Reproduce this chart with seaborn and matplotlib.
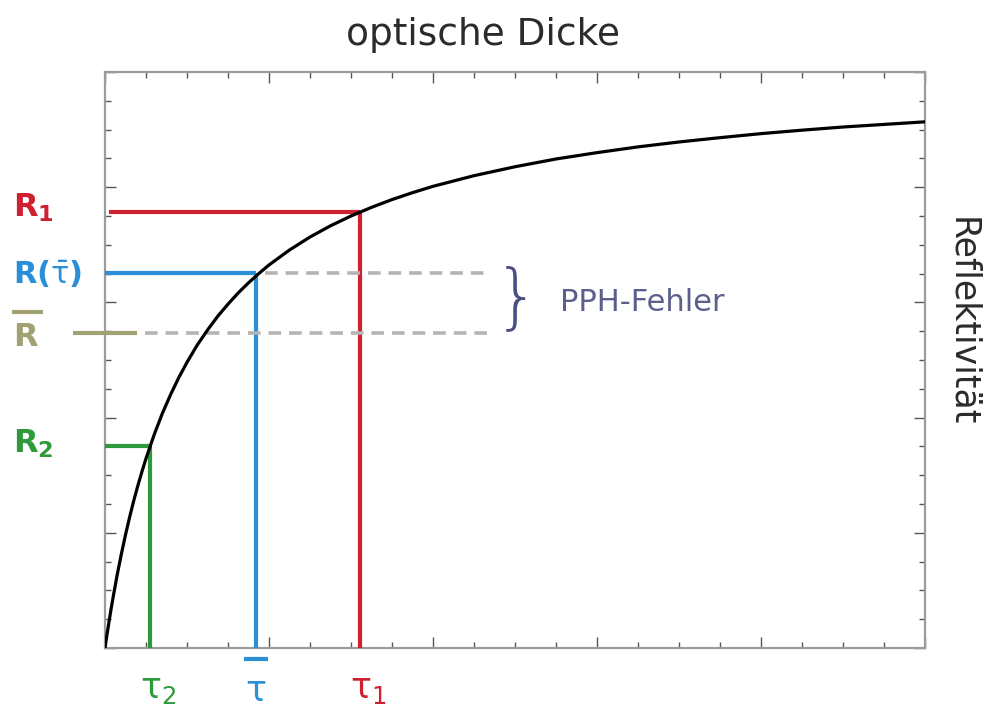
import matplotlib
matplotlib.use("Agg")
import matplotlib.pyplot as plt
from matplotlib.ticker import MultipleLocator
import seaborn as sns
import pandas as pd

# ---- data (axis units 0..20 on both axes) ----
tau = [0, 0.05, 0.1, 0.15, 0.2, 0.3, 0.4, 0.5, 0.6, 0.7, 0.8, 0.9, 1.0, 1.2,
       1.4, 1.6, 1.8, 2.0, 2.25, 2.5, 2.75, 3.0, 3.25, 3.5, 3.75, 4.0, 4.5,
       5.0, 5.5, 6.0, 6.5, 7.0, 7.5, 8.0, 9, 10, 11, 12, 13, 14, 15, 16, 17,
       18, 19, 20]
refl = [0, 0.48, 0.93, 1.37, 1.78, 2.56, 3.27, 3.93, 4.54, 5.11, 5.63, 6.12,
        6.58, 7.41, 8.15, 8.80, 9.39, 9.92, 10.52, 11.04, 11.52, 11.94, 12.33,
        12.68, 13.00, 13.30, 13.82, 14.27, 14.66, 15.00, 15.30, 15.57, 15.81,
        16.03, 16.40, 16.71, 16.98, 17.20, 17.40, 17.57, 17.72, 17.86, 17.98,
        18.09, 18.18, 18.27]

tau2, R2 = 1.10, 7.00
tau_bar, R_tau_bar = 3.68, 13.02
tau1, R1 = 6.22, 15.14
R_bar = 10.94
pph_end = 9.32

RED = "#cf2030"
BLUE = "#2a8fd6"
GREEN = "#2f9a3c"
OLIVE = "#a2a174"
DASH = "#b4b4b4"
PPH = "#5b5f8c"

sns.set_theme(style="white")
plt.rcParams["font.family"] = ["DejaVu Sans"]
plt.rcParams["mathtext.fontset"] = "dejavusans"

fig = plt.figure(figsize=(9.85, 7.15), dpi=100)
ax = fig.add_axes([105 / 985, 67 / 715, 820 / 985, 576 / 715])

df = pd.DataFrame({"tau": tau, "R": refl})
sns.lineplot(data=df, x="tau", y="R", ax=ax, color="black", linewidth=2.3,
             zorder=5, sort=False)

lw = 3.0
# red
ax.plot([0.1, tau1], [R1, R1], color=RED, lw=lw, solid_capstyle="butt", zorder=3)
ax.plot([tau1, tau1], [0, R1], color=RED, lw=lw, solid_capstyle="butt", zorder=3)
# blue
ax.plot([0, tau_bar], [R_tau_bar, R_tau_bar], color=BLUE, lw=lw, solid_capstyle="butt", zorder=3)
ax.plot([tau_bar, tau_bar], [0, R_tau_bar], color=BLUE, lw=lw, solid_capstyle="butt", zorder=3)
# green
ax.plot([0, tau2], [R2, R2], color=GREEN, lw=lw, solid_capstyle="butt", zorder=3)
ax.plot([tau2, tau2], [0, R2], color=GREEN, lw=lw, solid_capstyle="butt", zorder=3)
# olive R-bar stub
ax.plot([-0.78, 0.78], [R_bar, R_bar], color=OLIVE, lw=lw, clip_on=False,
        solid_capstyle="butt", zorder=3)
# grey dashed lines
ax.plot([tau_bar + 0.22, pph_end], [R_tau_bar, R_tau_bar], color=DASH, lw=2.6,
        dashes=(3.5, 2.2), zorder=4)
ax.plot([0.98, pph_end], [R_bar, R_bar], color=DASH, lw=2.6,
        dashes=(3.5, 2.2), zorder=4)

ax.set_xlim(0, 20)
ax.set_ylim(0, 20)
ax.set_xlabel("")
ax.set_ylabel("")
ax.xaxis.set_major_locator(MultipleLocator(4))
ax.xaxis.set_minor_locator(MultipleLocator(1))
ax.yaxis.set_major_locator(MultipleLocator(4))
ax.yaxis.set_minor_locator(MultipleLocator(1))
ax.tick_params(which="both", direction="in", top=True, right=True, bottom=True,
               left=True, labelbottom=False, labelleft=False, color="#555555",
               width=1.0)
ax.tick_params(which="major", length=8)
ax.tick_params(which="minor", length=4)
for s in ax.spines.values():
    s.set_color("#9c9c9c")
    s.set_linewidth(1.6)

# ---- left labels ----
ytr = ax.get_yaxis_transform()
lx = -0.112
ax.text(lx, R1 + 0.15, r"$\mathbf{R}_{\mathbf{1}}$", transform=ytr, color=RED,
        fontsize=23, ha="left", va="center")
ax.text(lx, R_tau_bar - 0.05, r"$\mathbf{R(}\bar{\mathrm{\tau}}\mathbf{)}$",
        transform=ytr, color=BLUE, fontsize=22, ha="left", va="center")
ax.text(lx, R_bar - 0.15, r"$\mathbf{R}$", transform=ytr, color=OLIVE,
        fontsize=23, ha="left", va="center")
ax.plot([-0.114, -0.076], [R_bar + 0.72, R_bar + 0.72], transform=ytr,
        color=OLIVE, lw=3, clip_on=False, solid_capstyle="butt")
ax.text(lx, R2 + 0.1, r"$\mathbf{R}_{\mathbf{2}}$", transform=ytr, color=GREEN,
        fontsize=23, ha="left", va="center")

# ---- bottom labels ----
xtr = ax.get_xaxis_transform()
ax.text(tau2 + 0.2, -0.042, r"$\mathrm{\tau}_{\mathrm{2}}$", transform=xtr,
        color=GREEN, fontsize=25, ha="center", va="top")
ax.text(tau_bar, -0.046, r"$\mathrm{\tau}$", transform=xtr,
        color=BLUE, fontsize=25, ha="center", va="top")
ax.plot([tau_bar - 0.29, tau_bar + 0.29], [-0.019, -0.019], transform=xtr,
        color=BLUE, lw=3, clip_on=False, solid_capstyle="butt")
ax.text(tau1 + 0.2, -0.042, r"$\mathrm{\tau}_{\mathrm{1}}$", transform=xtr,
        color=RED, fontsize=25, ha="center", va="top")

# ---- PPH-Fehler ----
ax.text(10.05, 12.1, "}", color="#4b5080", fontsize=52, fontweight="light",
        ha="center", va="center")
ax.text(11.1, 12.0, "PPH-Fehler", color=PPH, fontsize=22, ha="left", va="center")

# ---- titles ----
fig.text(483 / 985, 1 - 35 / 715, "optische Dicke", ha="center", va="center",
         fontsize=27, color="#2b2b2b")
fig.text(962 / 985, 1 - 322 / 715, "Reflektivität", ha="center", va="center",
         rotation=270, fontsize=25, color="#2b2b2b")

fig.savefig("out.png", dpi=100, facecolor="white")
